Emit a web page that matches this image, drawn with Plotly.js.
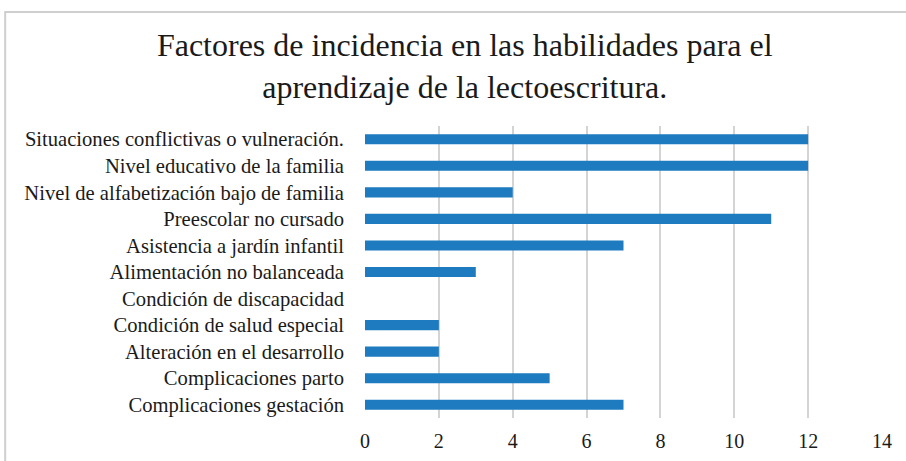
<!DOCTYPE html>
<html>
<head>
<meta charset="utf-8">
<script src="https://cdn.plot.ly/plotly-3.0.1.min.js"></script>
<style>html,body{margin:0;padding:0;background:#fff;}#chart{width:906px;height:461px;}</style>
</head>
<body>
<div id="chart"></div>
<script>
const categories = [
  "Situaciones conflictivas o vulneración.",
  "Nivel educativo de la familia",
  "Nivel de alfabetización bajo de familia",
  "Preescolar no cursado",
  "Asistencia a jardín infantil",
  "Alimentación no balanceada",
  "Condición de discapacidad",
  "Condición de salud especial",
  "Alteración en el desarrollo",
  "Complicaciones parto",
  "Complicaciones gestación"
];
const values = [12, 12, 4, 11, 7, 3, 0, 2, 2, 5, 7];
const xTicks = [0, 2, 4, 6, 8, 10, 12, 14];
const titleText = "Factores de incidencia en las habilidades para el<br>aprendizaje de la lectoescritura.";

const font = "Liberation Serif";
Plotly.newPlot("chart", [{
  type: "bar",
  orientation: "h",
  y: categories,
  x: values,
  marker: {color: "#1f7bbf"},
  width: 0.38,
  hoverinfo: "x+y"
}], {
  width: 906, height: 461,
  margin: {l: 365, r: 24, t: 126, b: 43},
  paper_bgcolor: "#fff", plot_bgcolor: "#fff",
  font: {family: font, color: "#1a1a1a", size: 20},
  title: {text: titleText, font: {family: font, size: 32, color: "#1a1a1a"}, x: 0.513, xanchor: "center", y: 0.878, yanchor: "top"},
  xaxis: {range: [0, 14], tickvals: xTicks, ticktext: xTicks.map(String), showgrid: true, gridcolor: "#d4d4d4", gridwidth: 2, zeroline: false, showline: false, ticks: "", fixedrange: true, tickfont: {family: font, size: 20}, ticklabelstandoff: 9},
  yaxis: {type: "category", autorange: "reversed", showgrid: false, zeroline: false, showline: false, ticks: "", ticklabelstandoff: 20, fixedrange: true, tickfont: {family: font, size: 20.6}},
  shapes: [{type: "rect", xref: "paper", yref: "paper", x0: -0.696, x1: 1.06, y0: -0.2, y1: 1.39, line: {color: "#cfcfcf", width: 2}, fillcolor: "rgba(0,0,0,0)", layer: "below"}],
  showlegend: false
}, {displayModeBar: false, staticPlot: true});
</script>
</body>
</html>
